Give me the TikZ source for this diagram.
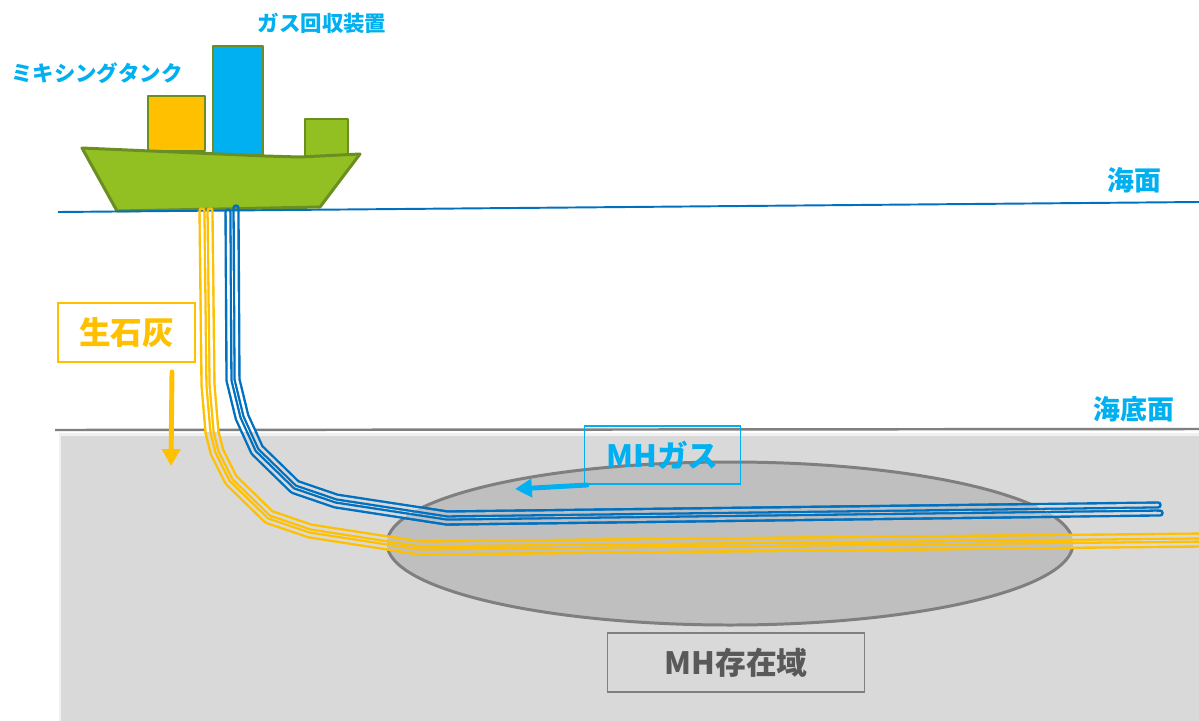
\documentclass[tikz,border=0pt]{standalone}
\usepackage{fontspec}
\usetikzlibrary{arrows.meta}
\newfontfamily\jpfont{Noto Sans CJK JP}

\definecolor{seablue}{HTML}{0070C0}
\definecolor{labelcyan}{HTML}{00B0F0}
\definecolor{limeyellow}{HTML}{FFC000}
\definecolor{hullgreen}{HTML}{92C022}
\definecolor{hulledge}{HTML}{6B8E23}
\definecolor{seabed}{HTML}{D9D9D9}
\definecolor{mhzone}{HTML}{BFBFBF}
\definecolor{mhedge}{HTML}{7F7F7F}
\definecolor{mhtext}{HTML}{595959}

% centre lines of the two pipes
\newcommand{\limeline}{(206,212) -- (208,385) -- (212,432) -- (217,452) -- (231,480)
  -- (269,517) -- (310,531) -- (420,548) -- (1204,540)}
\newcommand{\gasline}{(232,212) -- (233,380) -- (242,417) -- (257,450) -- (295,487)
  -- (336,501) -- (447,518) -- (1157,509)}

% a pipe is two thin strips: stacked strokes, the gaps take the ground colour #2
\newcommand{\pipestrips}[3]{%
  \draw[line width=8.7pt, #1] #3;
  \draw[line width=6.0pt, #2] #3;
  \draw[line width=3.06pt, #1] #3;
  \draw[line width=0.45pt, #2] #3;}
\newcommand{\bothpipes}[1]{%
  \pipestrips{limeyellow}{#1}{\limeline}%
  \pipestrips{seablue}{#1}{\gasline}}
% closed upper end of one strip: legs at x=#2,#3 from y=#4 up to y=#5
\newcommand{\hairpin}[5]{%
  \draw[#1, line width=1.36pt] (#2,#4) -- (#2,#5)
    .. controls (#2,#5-3.3) and (#3,#5-3.3) .. (#3,#5) -- (#3,#4);}

\begin{document}
\begin{tikzpicture}[x=0.02cm, y=-0.02cm,
  hull/.style={draw=hulledge, line width=1.7pt, line join=round},
  tag/.style={text=labelcyan, inner sep=0,
              font=\jpfont\bfseries\fontsize{12.2pt}{14pt}\selectfont},
  level/.style={text=labelcyan, inner sep=0,
                font=\jpfont\bfseries\fontsize{15.3pt}{18pt}\selectfont},
  flowbox/.style={draw, line width=0.85pt, inner sep=0,
                  font=\jpfont\bfseries\fontsize{17.5pt}{20pt}\selectfont},
  flow/.style={line width=2.8pt, line cap=round,
               -{Triangle[length=9.6pt, width=10.2pt]}},
  pipes/.style={line join=round, line cap=butt}
]
\useasboundingbox (0,0) rectangle (1199,720);
\fill[white] (0,0) rectangle (1199,720);

% sea floor and hydrate layer
\draw[fill=seabed, draw=black!6, line width=1.7pt] (60,434) rectangle (1210,730);
\draw[mhedge, line width=1.4pt] (55,430) -- (1199,429);
\draw[fill=mhzone, draw=mhedge, line width=1.7pt]
  (730,543.5) ellipse [x radius=343, y radius=81.5];

% ship
\draw[hull, fill=limeyellow] (148,96) rectangle (205,151);
\draw[hull, fill=labelcyan] (213,46) rectangle (263,155);
\draw[hull, fill=hullgreen] (305,119) rectangle (348,157);
\draw[hull, fill=hullgreen] (82,148) -- (265,156) -- (300,157) -- (360,154)
  -- (320,207) -- (117,211) -- cycle;

\draw[seablue, line width=1.1pt] (58,212) -- (1199,202);

% pipes
\begin{scope}[pipes]
  \clip (0,0) rectangle (1210,432);
  \bothpipes{white}
\end{scope}
\begin{scope}[pipes]
  \clip (0,432) rectangle (1210,730);
  \bothpipes{seabed}
\end{scope}
\begin{scope}[pipes]
  \clip (730,543.5) ellipse [x radius=343, y radius=81.5];
  \bothpipes{mhzone}
\end{scope}
\hairpin{limeyellow}{199.5}{204.45}{212}{211}
\hairpin{limeyellow}{207.55}{212.5}{212}{211}
\hairpin{seablue}{225.5}{230.45}{212}{212}
\hairpin{seablue}{233.55}{238.5}{212}{208}
\draw[seablue, line width=1.36pt] (1157,502.5) -- (1158,502.5)
  .. controls (1161.3,502.5) and (1161.3,507.45) .. (1158,507.45) -- (1157,507.45);
\draw[seablue, line width=1.36pt] (1157,510.55) -- (1160,510.55)
  .. controls (1163.3,510.55) and (1163.3,515.5) .. (1160,515.5) -- (1157,515.5);

% labels
\node[tag] (recovery) at (322,23) {ガス回収装置};
\node[tag] (mixing) at (97,73) {ミキシングタンク};
\node[level] (surface) at (1134,180) {海面};
\node[level] (seafloor) at (1134,409) {海底面};

\node[flowbox, draw=limeyellow, text=limeyellow, minimum width=77.7pt,
      minimum height=33.4pt, font=\jpfont\bfseries\fontsize{18pt}{20pt}\selectfont]
  (lime) at (126.5,332.5) {生石灰};
\node[flowbox, draw=labelcyan, text=labelcyan, minimum width=89pt,
      minimum height=32.9pt] (gas) at (662.5,455) {MHガス};
\node[flowbox, draw=mhedge, text=mhtext, minimum width=146.3pt,
      minimum height=33.4pt] (zone) at (736,662.5) {MH存在域};

\coordinate (limefrom) at (172,372);
\coordinate (limeto) at (171,466);
\coordinate (gasfrom) at (587,485);
\coordinate (gasto) at (515,489);
\draw[flow, limeyellow] (limefrom) -- (limeto);
\draw[flow, labelcyan] (gasfrom) -- (gasto);
\end{tikzpicture}
\end{document}
